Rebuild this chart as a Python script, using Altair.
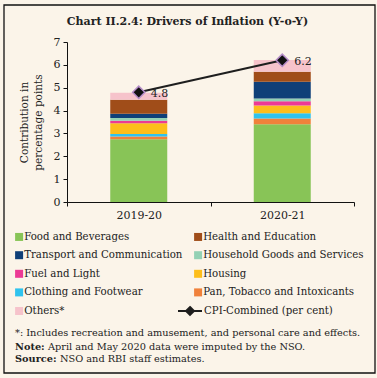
import altair as alt
import pandas as pd

# ---- data ----
years = ["2019-20", "2020-21"]
components = [
    "Food and Beverages",
    "Pan, Tobacco and Intoxicants",
    "Clothing and Footwear",
    "Housing",
    "Fuel and Light",
    "Household Goods and Services",
    "Transport and Communication",
    "Health and Education",
    "Others*",
]
vals_2019 = [2.75, 0.12, 0.10, 0.48, 0.10, 0.12, 0.19, 0.61, 0.31]
vals_2020 = [3.40, 0.25, 0.23, 0.34, 0.19, 0.12, 0.73, 0.44, 0.51]
cpi = [4.8, 6.2]
cpi_labels = ["4.8", "6.2"]

# legend is filled column by column: left column first, then right column
legend_order = [
    "Food and Beverages", "Transport and Communication", "Fuel and Light",
    "Clothing and Footwear", "Others*",
    "Health and Education", "Household Goods and Services", "Housing",
    "Pan, Tobacco and Intoxicants",
]
legend_colors = [
    "#88C457", "#0F3F78", "#EC3A95", "#2FC3EE", "#F6C3CB",
    "#A04D19", "#93D1B4", "#FDBE1B", "#F0813B",
]

FONT = "DejaVu Serif"
BG = "#FBF4E9"

rows = []
for yr, vals in zip(years, [vals_2019, vals_2020]):
    for i, (c, v) in enumerate(zip(components, vals)):
        rows.append({"year": yr, "component": c, "value": v, "order": i})
bars_df = pd.DataFrame(rows)
cpi_df = pd.DataFrame({"year": years, "cpi": cpi, "label": cpi_labels,
                       "series": ["CPI-Combined (per cent)"] * 2})
one = pd.DataFrame({"a": [0]})

x_axis = alt.Axis(labelAngle=0, tickBand="extent", labelFont=FONT,
                  labelFontSize=11, labelColor="#222", tickSize=4,
                  labelPadding=3, domainColor="#111", tickColor="#111")
y_axis = alt.Axis(values=[0, 1, 2, 3, 4, 5, 6, 7], grid=False,
                  labelFont=FONT, labelFontSize=11, labelColor="#222",
                  tickSize=4, labelPadding=3, domainColor="#111",
                  tickColor="#111", titleFont=FONT, titleFontSize=10.5,
                  titleFontWeight="normal", titleColor="#222",
                  titlePadding=10, titleLineHeight=14, labelOverlap=False)
y_title = ["Contribution in", "percentage points"]
x_scale = alt.Scale(paddingInner=0, paddingOuter=0)
y_scale = alt.Scale(domain=[0, 7], nice=False)


def X():
    return alt.X("year:N", sort=years, title=None, scale=x_scale, axis=x_axis)


bars = alt.Chart(bars_df).mark_bar(size=57).encode(
    x=X(),
    y=alt.Y("sum(value):Q", title=y_title, scale=y_scale, axis=y_axis),
    color=alt.Color("component:N",
                    scale=alt.Scale(domain=legend_order, range=legend_colors),
                    legend=alt.Legend(title=None, orient="none", legendX=-53,
                                      legendY=189.5, columns=2, symbolType="square",
                                      symbolSize=64, symbolStrokeWidth=0,
                                      labelFont=FONT, labelFontSize=10.2,
                                      labelColor="#222", labelOffset=0,
                                      columnPadding=10, rowPadding=7.6,
                                      labelLimit=300)),
    order=alt.Order("order:Q", sort="ascending"),
)

line = alt.Chart(cpi_df).mark_line(strokeWidth=2).encode(
    x=X(),
    y=alt.Y("cpi:Q", title=y_title, scale=y_scale, axis=y_axis),
    stroke=alt.Stroke("series:N",
                      scale=alt.Scale(domain=["CPI-Combined (per cent)"],
                                      range=["#1E1E1E"]),
                      legend=alt.Legend(title=None, orient="none", legendX=110,
                                        legendY=256,
                                        symbolType="M-1,0L1,0M0,-0.33L0.33,0L0,0.33L-0.33,0Z",
                                        symbolSize=576, symbolStrokeWidth=2,
                                        symbolFillColor="#1E1E1E",
                                        symbolStrokeColor="#1E1E1E",
                                        labelFont=FONT, labelFontSize=10.2,
                                        labelColor="#222", labelOffset=1)),
)

points = alt.Chart(cpi_df).mark_point(shape="diamond", size=150, filled=True,
                                      fill="#111", stroke="#B48CC8",
                                      strokeWidth=1.5, opacity=1).encode(
    x=X(),
    y=alt.Y("cpi:Q", title=y_title, scale=y_scale, axis=y_axis),
)

labels = alt.Chart(cpi_df).mark_text(align="left", baseline="middle", dx=12,
                                     dy=2, font=FONT, fontSize=11,
                                     color="#222").encode(
    x=X(),
    y=alt.Y("cpi:Q", title=y_title, scale=y_scale, axis=y_axis),
    text="label:N",
)

border = alt.Chart(one).mark_rect(fill=None, stroke="#111", strokeWidth=1.3).encode(
    x=alt.value(-63), x2=alt.value(308), y=alt.value(-37), y2=alt.value(331))


def note(txt, x, y, bold=False, size=9.75):
    return alt.Chart(one).mark_text(align="left", baseline="middle", font=FONT,
                                    fontSize=size, color="#222",
                                    fontWeight="bold" if bold else "normal").encode(
        x=alt.value(x), y=alt.value(y), text=alt.value(txt))


title = alt.Chart(one).mark_text(align="center", baseline="middle", font=FONT,
                                 fontSize=11, fontWeight="bold",
                                 color="#222").encode(
    x=alt.value(120.5), y=alt.value(-20.5),
    text=alt.value("Chart II.2.4: Drivers of Inflation (Y-o-Y)"))

notes = [
    note("*: Includes recreation and amusement, and personal care and effects.", -52, 291),
    note("Note:", -52, 305, True),
    note("April and May 2020 data were imputed by the NSO.", -19, 305),
    note("Source:", -52, 317, True),
    note("NSO and RBI staff estimates.", -7, 317),
]

chart = alt.layer(border, bars, line, points, labels, title, *notes).properties(
    width=287, height=160,
    autosize=alt.AutoSizeParams(type="none"),
    padding={"left": 67, "top": 42, "right": 23, "bottom": 176},
    background=BG,
).configure_view(stroke=None)

chart.save("out.html", embed_options={"renderer": "svg", "actions": False})
